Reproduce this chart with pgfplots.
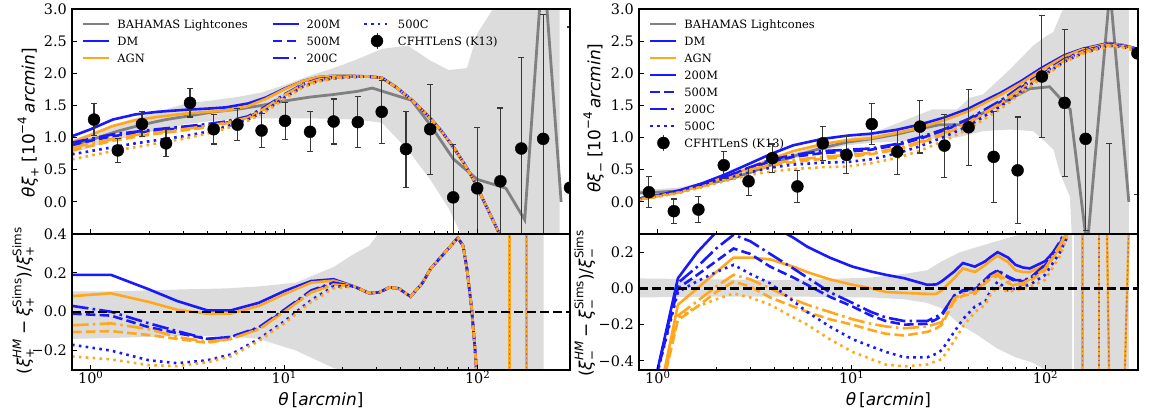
\documentclass[border=0pt]{standalone}
\usepackage{amsmath}
\usepackage{fontspec}
\setmainfont{DejaVu Serif}
\newfontfamily\mt{DejaVu Sans}[ItalicFont={* Oblique}]
\usepackage{pgfplots}
\usepackage{pgfplotstable}
\pgfplotsset{compat=1.18}

\newcommand{\tx}[1]{\text{\mt #1}}

\definecolor{hmblue}{RGB}{25,25,255}
\definecolor{hmorange}{RGB}{255,168,30}
\definecolor{simgray}{RGB}{128,128,128}
\definecolor{bandgray}{RGB}{220,220,220}
\definecolor{ebar}{RGB}{55,55,55}

% plain TikZ styles for the curves
\tikzset{
  hmline/.style={line width=2.6bp, line cap=butt},
  lsM200/.style={hmline, solid},
  lsM500/.style={hmline, dash pattern=on 9.6bp off 4.2bp},
  lsC200/.style={hmline, dash pattern=on 16.6bp off 4.2bp on 2.6bp off 4.2bp},
  lsC500/.style={hmline, dash pattern=on 2.6bp off 4.3bp},
  simline/.style={simgray, line width=2.8bp},
  simband/.style={fill=bandgray, draw=none},
  zeroline/.style={black, line width=2.4bp, dash pattern=on 9bp off 4bp},
  divline/.style={hmorange, line width=2.4bp},
  divdots/.style={hmblue, opacity=0.45, line width=1.4bp, dash pattern=on 1.5bp off 3bp},
}

\newcommand{\lgline}[1]{\addlegendimage{legend image code/.code={%
  \draw[#1] (0bp,0bp) -- (26bp,0bp);
  \path[draw=none, fill=none] (0bp,-8.5bp) rectangle (34bp,8.5bp);}}}
\newcommand{\lgdot}{\addlegendimage{legend image code/.code={%
  \draw[ebar, line width=1bp] (13bp,-8bp) -- (13bp,8bp);
  \fill[black] (13bp,0bp) circle (6bp);
  \path[draw=none, fill=none] (0bp,-8.5bp) rectangle (34bp,8.5bp);}}}

% theta*xi_+ : halo-model predictions (DM / AGN, four mass definitions)
\pgfplotstableread{
t    dm200m agn200m dm500m agn500m dm200c agn200c dm500c agn500c
0.8  1.02 0.93 0.88 0.80 0.92 0.84 0.74 0.66
1.0  1.13 1.04 0.95 0.87 0.98 0.91 0.79 0.72
1.3  1.28 1.18 1.02 0.95 1.05 0.98 0.85 0.79
1.7  1.36 1.27 1.07 1.01 1.09 1.04 0.91 0.85
2.2  1.40 1.32 1.11 1.06 1.13 1.08 0.96 0.91
3    1.43 1.37 1.15 1.11 1.17 1.13 1.02 0.98
4    1.45 1.40 1.19 1.16 1.21 1.18 1.09 1.06
5    1.47 1.42 1.23 1.22 1.25 1.23 1.17 1.14
6.5  1.53 1.49 1.31 1.30 1.33 1.31 1.28 1.26
8    1.62 1.60 1.46 1.45 1.48 1.46 1.42 1.40
10   1.76 1.75 1.66 1.65 1.67 1.66 1.62 1.60
12.5 1.88 1.88 1.82 1.81 1.83 1.82 1.79 1.78
15   1.94 1.94 1.90 1.89 1.91 1.90 1.88 1.87
18   1.96 1.96 1.93 1.93 1.94 1.93 1.92 1.92
22   1.96 1.96 1.95 1.95 1.95 1.95 1.94 1.94
27   1.95 1.95 1.95 1.95 1.95 1.95 1.95 1.95
32   1.93 1.93 1.93 1.93 1.93 1.93 1.93 1.93
38   1.78 1.78 1.78 1.78 1.78 1.78 1.78 1.78
45   1.60 1.60 1.60 1.60 1.60 1.60 1.60 1.60
55   1.35 1.35 1.35 1.35 1.35 1.35 1.35 1.35
65   1.10 1.10 1.10 1.10 1.10 1.10 1.10 1.10
75   0.85 0.85 0.85 0.85 0.85 0.85 0.85 0.85
85   0.60 0.60 0.60 0.60 0.60 0.60 0.60 0.60
95   0.35 0.35 0.35 0.35 0.35 0.35 0.35 0.35
110  -0.05 -0.05 -0.05 -0.05 -0.05 -0.05 -0.05 -0.05
125  -0.40 -0.40 -0.40 -0.40 -0.40 -0.40 -0.40 -0.40
140  -0.70 -0.70 -0.70 -0.70 -0.70 -0.70 -0.70 -0.70
}\xipHM

% relative difference to the simulations, xi_+
\pgfplotstableread{
t    dm200m agn200m dm500m agn500m dm200c agn200c dm500c agn500c
0.8  0.19  0.08  -0.01 -0.105 0.03 -0.07 -0.17 -0.23
1.27 0.19  0.095 -0.02 -0.10  0.0  -0.06 -0.20 -0.245
2.0  0.115 0.05  -0.08 -0.12 -0.06 -0.09 -0.25 -0.275
2.8  0.055 0.01  -0.11 -0.14 -0.10 -0.13 -0.265 -0.28
4.0  0.007 -0.01 -0.14 -0.16 -0.14 -0.155 -0.25 -0.26
5.3  0.007 -0.01 -0.13 -0.14 -0.13 -0.14 -0.22 -0.23
7.4  0.046 0.03  -0.085 -0.09 -0.08 -0.09 -0.14 -0.15
10   0.106 0.09  0.005 0.0 0.01 0.0 -0.05 -0.06
13.8 0.158 0.15  0.105 0.10 0.11 0.10 0.06 0.05
18   0.167 0.16  0.145 0.14 0.15 0.14 0.13 0.12
23   0.13 0.13 0.13 0.13 0.13 0.13 0.13 0.13
27.5 0.095 0.095 0.095 0.095 0.095 0.095 0.095 0.095
31   0.10 0.10 0.10 0.10 0.10 0.10 0.10 0.10
35   0.125 0.125 0.125 0.125 0.125 0.125 0.125 0.125
39   0.12 0.12 0.12 0.12 0.12 0.12 0.12 0.12
45   0.078 0.078 0.078 0.078 0.078 0.078 0.078 0.078
52   0.15 0.15 0.15 0.15 0.15 0.15 0.15 0.15
57   0.22 0.22 0.22 0.22 0.22 0.22 0.22 0.22
67   0.30 0.30 0.30 0.30 0.30 0.30 0.30 0.30
79   0.38 0.38 0.38 0.38 0.38 0.38 0.38 0.38
84   0.34 0.34 0.34 0.34 0.34 0.34 0.34 0.34
88   0.22 0.22 0.22 0.22 0.22 0.22 0.22 0.22
93   0.02 0.02 0.02 0.02 0.02 0.02 0.02 0.02
97   -0.2 -0.2 -0.2 -0.2 -0.2 -0.2 -0.2 -0.2
100  -0.4 -0.4 -0.4 -0.4 -0.4 -0.4 -0.4 -0.4
105  -0.8 -0.8 -0.8 -0.8 -0.8 -0.8 -0.8 -0.8
}\xipRes

% theta*xi_- : halo-model predictions
\pgfplotstableread{
t    dm200m agn200m dm500m agn500m dm200c agn200c dm500c agn500c
0.8  0.05 0.04 0.05 0.04 0.05 0.04 0.04 0.03
1.0  0.10 0.09 0.10 0.09 0.10 0.08 0.09 0.08
1.3  0.18 0.16 0.17 0.15 0.17 0.15 0.16 0.14
1.7  0.29 0.26 0.27 0.25 0.27 0.24 0.25 0.23
2.2  0.42 0.38 0.39 0.35 0.38 0.34 0.35 0.32
3    0.60 0.53 0.52 0.48 0.54 0.50 0.46 0.42
3.8  0.74 0.66 0.63 0.56 0.65 0.58 0.53 0.47
5    0.88 0.79 0.70 0.62 0.73 0.65 0.58 0.51
7.1  0.98 0.90 0.76 0.67 0.79 0.70 0.61 0.54
9.5  1.03 0.96 0.78 0.70 0.81 0.73 0.62 0.55
12.5 1.06 0.99 0.81 0.74 0.83 0.76 0.66 0.60
17   1.12 1.07 0.88 0.81 0.90 0.83 0.75 0.68
22.3 1.20 1.15 0.98 0.91 1.00 0.93 0.86 0.79
30   1.31 1.27 1.11 1.05 1.13 1.07 1.01 0.95
40   1.45 1.41 1.27 1.22 1.29 1.24 1.18 1.13
59   1.70 1.67 1.56 1.52 1.58 1.54 1.49 1.45
75   1.88 1.85 1.78 1.75 1.80 1.77 1.72 1.69
95   2.08 2.05 1.98 1.96 1.99 1.97 1.94 1.92
125  2.28 2.26 2.21 2.19 2.22 2.20 2.18 2.17
155  2.38 2.37 2.34 2.32 2.34 2.33 2.31 2.30
211  2.47 2.46 2.45 2.44 2.45 2.44 2.43 2.42
250  2.44 2.44 2.43 2.42 2.43 2.42 2.41 2.40
300  2.38 2.37 2.37 2.36 2.37 2.36 2.35 2.34
}\ximHM

% relative difference to the simulations, xi_-
\pgfplotstableread{
t    dm200m agn200m dm500m agn500m dm200c agn200c dm500c agn500c
0.95 -0.55 -0.75 -0.55 -0.75 -0.55 -0.75 -0.55 -0.75
1.27 0.056 -0.09 0.0 -0.175 0.03 -0.15 -0.02 -0.16
1.6  0.20 0.0 0.075 -0.10 0.12 -0.07 0.04 -0.10
2.0  0.31 0.09 0.15 -0.02 0.22 0.01 0.09 -0.06
2.46 0.40 0.17 0.22 0.037 0.296 0.075 0.13 -0.028
3.0  0.39 0.17 0.19 0.01 0.26 0.05 0.08 -0.05
3.8  0.35 0.16 0.12 -0.05 0.19 0.0 0.028 -0.09
5.0  0.28 0.12 0.06 -0.10 0.11 -0.06 -0.07 -0.16
5.9  0.23 0.09 0.02 -0.13 0.06 -0.09 -0.13 -0.20
7.7  0.17 0.05 -0.046 -0.17 -0.02 -0.13 -0.21 -0.28
10.1 0.12 0.02 -0.10 -0.20 -0.08 -0.17 -0.28 -0.35
12.6 0.093 0.0 -0.15 -0.23 -0.13 -0.195 -0.32 -0.39
15   0.075 -0.02 -0.18 -0.25 -0.16 -0.21 -0.35 -0.42
18.7 0.056 -0.025 -0.20 -0.26 -0.18 -0.22 -0.38 -0.43
24.5 0.02 -0.03 -0.195 -0.24 -0.18 -0.21 -0.38 -0.42
27.4 0.022 -0.03 -0.17 -0.22 -0.155 -0.195 -0.36 -0.40
29.2 0.04 -0.01 -0.15 -0.20 -0.14 -0.185 -0.34 -0.39
33.8 0.093 0.056 -0.04 -0.07 -0.04 -0.055 -0.24 -0.29
37.5 0.14 0.11 -0.015 -0.04 -0.01 -0.03 -0.17 -0.21
43.2 0.12 0.09 -0.005 -0.03 0.0 -0.02 -0.10 -0.13
49   0.15 0.13 0.04 0.03 0.05 0.04 -0.07 -0.09
51.6 0.17 0.15 0.07 0.05 0.075 0.06 -0.02 -0.04
56.6 0.20 0.18 0.095 0.07 0.10 0.083 0.037 0.01
64.1 0.17 0.145 0.06 0.03 0.065 0.04 -0.01 -0.02
70   0.13 0.10 0.04 0.01 0.046 0.02 0.0 -0.01
76.6 0.115 0.09 0.04 0.02 0.046 0.03 0.01 0.0
83   0.11 0.09 0.05 0.04 0.056 0.05 0.02 0.01
99.4 0.15 0.13 0.125 0.10 0.13 0.11 0.074 0.046
119  0.24 0.22 0.25 0.23 0.26 0.24 0.20 0.18
129  0.30 0.30 0.33 0.31 0.34 0.32 0.28 0.28
140  0.40 0.40 0.45 0.45 0.45 0.45 0.45 0.45
}\ximRes

% CFHTLenS measurements (Kilbinger et al. 2013)
\pgfplotstableread{
t    v    e
1.04 1.28 0.25
1.38 0.80 0.19
1.84 1.21 0.19
2.45 0.91 0.21
3.26 1.54 0.22
4.32 1.13 0.23
5.73 1.20 0.25
7.64 1.11 0.26
10.1 1.26 0.29
13.6 1.09 0.31
18.0 1.25 0.35
24.0 1.24 0.40
31.9 1.40 0.49
42.6 0.82 0.59
56.8 1.13 0.70
74.7 0.07 0.82
99.4 0.21 0.94
131  0.32 1.14
168  0.83 1.42
218  0.98 1.93
300  0.22 2.50
}\xipData

\pgfplotstableread{
t    v     e
0.90 0.15  0.24
1.21 -0.145 0.19
1.62 -0.12 0.20
2.19 0.57  0.21
2.94 0.32  0.22
3.90 0.68  0.22
5.25 0.24  0.245
7.10 0.91  0.265
9.40 0.73  0.285
12.7 1.21  0.32
17.2 0.78  0.35
22.5 1.17  0.41
30.1 0.875 0.49
40.1 1.16  0.59
54.0 0.70  0.705
71.8 0.49  0.83
95.8 1.95  0.955
125.4 1.54 1.14
161  0.98  1.42
213  -0.85 1.76
298  2.31  2.20
}\ximData

\newcommand{\hmcurves}[1]{%
  \addplot[forget plot, hmblue,   lsM200] table[x=t,y=dm200m]  {#1};
  \addplot[forget plot, hmorange, lsM200] table[x=t,y=agn200m] {#1};
  \addplot[forget plot, hmblue,   lsM500] table[x=t,y=dm500m]  {#1};
  \addplot[forget plot, hmorange, lsM500] table[x=t,y=agn500m] {#1};
  \addplot[forget plot, hmblue,   lsC200] table[x=t,y=dm200c]  {#1};
  \addplot[forget plot, hmorange, lsC200] table[x=t,y=agn200c] {#1};
  \addplot[forget plot, hmblue,   lsC500] table[x=t,y=dm500c]  {#1};
  \addplot[forget plot, hmorange, lsC500] table[x=t,y=agn500c] {#1};
}
\newcommand{\kdata}[1]{%
  \addplot[forget plot, only marks, mark=*, mark size=6bp,
    mark options={fill=black, draw=black, solid},
    error bars/.cd, y dir=both, y explicit,
    error bar style={ebar, line width=1.1bp, solid},
    error mark options={ebar, rotate=90, mark size=3bp, line width=1.1bp}]
    table[x=t, y=v, y error=e] {#1};
}

\begin{document}
\begin{tikzpicture}
\useasboundingbox (0,0) rectangle (1151bp,420bp);

% ---------------- xi_+ ----------------
\begin{axis}[scale only axis, anchor=south west, at={(72bp,186bp)},
  width=498bp, height=225bp,
  xmode=log, xmin=0.8, xmax=300, ymin=-0.5, ymax=3,
  axis on top, clip marker paths=true,
  axis line style={black, line width=1.1bp},
  tick style={black, line width=0.9bp},
  major tick length=5bp, minor tick length=3bp,
  tick align=inside, xtick pos=left, ytick pos=left,
  xtick={1,10,100}, xticklabels={},
  ytick={0,0.5,1,1.5,2,2.5,3}, yticklabels={0.0,0.5,1.0,1.5,2.0,2.5,3.0},
  tick label style={font=\fontsize{14.5}{16}\selectfont},
  yticklabel style={anchor=east, inner sep=0pt, xshift=-5bp},
  ylabel={$\tx{\itshape θξ}_{\tx{+}}\;\tx{[10}^{\tx{−4}}\,\tx{\itshape arcmin}\tx{]}$},
  ylabel style={at={(axis description cs:-0.088,0.495)}, anchor=center,
    font=\fontsize{17}{20}\selectfont},
  legend columns=3, legend cell align=left,
  legend style={draw=none, fill=none, inner sep=0pt, outer sep=0pt,
    column sep=0pt, row sep=0pt, font=\fontsize{11.5}{13}\selectfont,
    nodes={inner sep=0pt, text depth=0pt},
    at={(0,1)}, anchor=north west, xshift=10bp, yshift=-6.5bp}]
  \addplot[forget plot, simband] coordinates {
    (0.8,0.96) (1.3,1.2) (1.84,1.33) (2.46,1.44) (3.1,1.53) (4.3,1.58) (5.7,1.63)
    (7.6,1.70) (10.1,1.82) (13.5,1.96) (18,2.08) (24,2.22) (32,2.38) (43.5,2.43)
    (56.8,2.2) (70.8,2.05) (88,2.08) (100,2.63) (120,3.0) (130,3.6) (265,3.6)
    (265,-0.8) (88,-0.8) (85,-0.6) (70.8,-0.1) (56.8,0.35) (43.5,0.81) (32,1.23)
    (24,1.28) (18,1.29) (13.5,1.30) (10.1,1.30) (7.6,1.30) (5.7,1.29) (4.3,1.26)
    (3.1,1.21) (2.46,1.14) (1.84,1.06) (1.3,0.95) (0.8,0.76)} -- cycle;
  \addplot[forget plot, simline] coordinates {
    (0.8,0.88) (1.04,0.98) (1.38,1.10) (1.84,1.20) (2.45,1.28) (3.26,1.34)
    (4.32,1.40) (5.73,1.44) (7.64,1.50) (10.1,1.57) (13.6,1.63) (18.0,1.67)
    (24.0,1.72) (28.5,1.77) (45.5,1.58) (56.8,1.20) (74.7,0.67) (99.4,0.35)
    (131,0.24) (140,0.21) (175,-0.28) (218,3.8) (270,0.0)};
  \hmcurves{\xipHM}
  \kdata{\xipData}
  % legend, filled row by row
  \lgline{simline}\addlegendentry{\makebox[154bp][l]{BAHAMAS Lightcones}}
  \lgline{hmblue, lsM200}\addlegendentry{\makebox[56bp][l]{200M}}
  \lgline{hmblue, lsC500}\addlegendentry{500C}
  \lgline{hmblue, lsM200}\addlegendentry{DM}
  \lgline{hmblue, lsM500}\addlegendentry{500M}
  \lgdot\addlegendentry{CFHTLenS (K13)}
  \lgline{hmorange, lsM200}\addlegendentry{AGN}
  \lgline{hmblue, lsC200}\addlegendentry{200C}
  \addlegendimage{empty legend}\addlegendentry{}
\end{axis}

\begin{axis}[scale only axis, anchor=south west, at={(72bp,50bp)},
  width=498bp, height=136bp,
  xmode=log, xmin=0.8, xmax=300, ymin=-0.3, ymax=0.4,
  axis on top,
  axis line style={black, line width=1.1bp},
  tick style={black, line width=0.9bp},
  major tick length=5bp, minor tick length=3bp,
  tick align=inside, xtick pos=left, ytick pos=left,
  xtick={1,10,100},
  xticklabels={10\textsuperscript{0},10\textsuperscript{1},10\textsuperscript{2}},
  ytick={-0.2,0,0.2,0.4}, yticklabels={−0.2,0.0,0.2,0.4},
  tick label style={font=\fontsize{14.5}{16}\selectfont},
  yticklabel style={anchor=east, inner sep=0pt, xshift=-5bp},
  xticklabel style={anchor=north, inner sep=0pt, yshift=-1bp},
  xlabel={$\tx{\itshape θ}\,\tx{[}\tx{\itshape arcmin}\tx{]}$},
  xlabel style={at={(axis description cs:0.5,-0.22)}, anchor=center,
    font=\fontsize{17}{20}\selectfont},
  ylabel={$\tx{(}\tx{\itshape ξ}^{\tx{\itshape HM}}_{\tx{+}}\mathbin{\tx{−}}\tx{\itshape ξ}^{\tx{Sims}}_{\tx{+}}\tx{)/}\tx{\itshape ξ}^{\tx{Sims}}_{\tx{+}}$},
  ylabel style={at={(axis description cs:-0.098,0.51)}, anchor=center,
    font=\fontsize{17}{20}\selectfont}]
  \addplot[forget plot, simband] coordinates {
    (0.8,0.105) (1.3,0.105) (2,0.11) (3,0.115) (5,0.12) (7.4,0.13) (11.5,0.15)
    (18,0.23) (22.3,0.29) (27.5,0.34) (30.6,0.4) (35,0.5) (219,0.5)
    (219,-0.4) (30.6,-0.4) (27.5,-0.35) (22.3,-0.32) (18,-0.29) (11.5,-0.2)
    (7.4,-0.14) (5,-0.125) (3,-0.125) (2,-0.13) (1.3,-0.135) (0.8,-0.14)} -- cycle;
  \hmcurves{\xipRes}
  \addplot[forget plot, divline] coordinates {(146,-0.5) (146,0.5)};
  \addplot[forget plot, divdots] coordinates {(146,-0.5) (146,0.5)};
  \addplot[forget plot, divline] coordinates {(179,-0.5) (179,0.5)};
  \addplot[forget plot, divdots] coordinates {(179,-0.5) (179,0.5)};
  \addplot[forget plot, zeroline] coordinates {(0.8,0) (300,0)};
\end{axis}

% ---------------- xi_- ----------------
\begin{axis}[scale only axis, anchor=south west, at={(639bp,186bp)},
  width=499bp, height=225bp,
  xmode=log, xmin=0.8, xmax=300, ymin=-0.5, ymax=3,
  axis on top, clip marker paths=true,
  axis line style={black, line width=1.1bp},
  tick style={black, line width=0.9bp},
  major tick length=5bp, minor tick length=3bp,
  tick align=inside, xtick pos=left, ytick pos=left,
  xtick={1,10,100}, xticklabels={},
  ytick={0,0.5,1,1.5,2,2.5,3}, yticklabels={0.0,0.5,1.0,1.5,2.0,2.5,3.0},
  tick label style={font=\fontsize{14.5}{16}\selectfont},
  yticklabel style={anchor=east, inner sep=0pt, xshift=-5bp},
  ylabel={$\tx{\itshape θξ}_{\tx{−}}\;\tx{[10}^{\tx{−4}}\,\tx{\itshape arcmin}\tx{]}$},
  ylabel style={at={(axis description cs:-0.09,0.515)}, anchor=center,
    font=\fontsize{17}{20}\selectfont},
  legend columns=1, legend cell align=left,
  legend style={draw=none, fill=none, inner sep=0pt, outer sep=0pt,
    column sep=0pt, row sep=0pt, font=\fontsize{11.5}{13}\selectfont,
    nodes={inner sep=0pt, text depth=0pt},
    at={(0,1)}, anchor=north west, xshift=10bp, yshift=-6.5bp}]
  \addplot[forget plot, simband] coordinates {
    (0.8,0.19) (1.0,0.20) (1.27,0.22) (2.0,0.35) (3.0,0.50) (5,0.76) (7.1,0.89)
    (9.5,0.98) (12.6,1.06) (17.8,1.24) (26.2,1.44) (35,1.44) (40.8,1.62)
    (47.6,1.67) (65.5,2.06) (86.4,2.43) (101,2.58) (109.6,2.64) (115,2.79)
    (123,3.0) (130,3.6) (269,3.6)
    (269,-0.6) (137,-0.6) (133.6,0.08) (118.6,0.45) (110,0.81) (101,0.92)
    (86.4,1.10) (65.5,1.125) (47.6,1.1) (35,1.0) (22,0.97) (17.8,0.94)
    (12.6,0.92) (9.5,0.88) (7.1,0.80) (5,0.67) (3.0,0.43) (2.0,0.28)
    (1.27,0.13) (1.0,0.11) (0.8,0.10)} -- cycle;
  \addplot[forget plot, simline] coordinates {
    (0.8,0.14) (1.0,0.15) (1.27,0.17) (1.6,0.24) (2.0,0.31) (2.46,0.37)
    (3.0,0.46) (3.8,0.57) (5.0,0.71) (7.1,0.84) (9.5,0.93) (12.6,0.98)
    (17,1.05) (22,1.13) (28.5,1.20) (36,1.20) (44,1.33) (83,1.76) (105,1.79)
    (134,1.44) (164,-0.71) (215,3.3) (269,0.0)};
  \hmcurves{\ximHM}
  \kdata{\ximData}
  \lgline{simline}\addlegendentry{BAHAMAS Lightcones}
  \lgline{hmblue, lsM200}\addlegendentry{DM}
  \lgline{hmorange, lsM200}\addlegendentry{AGN}
  \lgline{hmblue, lsM200}\addlegendentry{200M}
  \lgline{hmblue, lsM500}\addlegendentry{500M}
  \lgline{hmblue, lsC200}\addlegendentry{200C}
  \lgline{hmblue, lsC500}\addlegendentry{500C}
  \lgdot\addlegendentry{CFHTLenS (K13)}
\end{axis}

\begin{axis}[scale only axis, anchor=south west, at={(639bp,50bp)},
  width=499bp, height=136bp,
  xmode=log, xmin=0.8, xmax=300, ymin=-0.45, ymax=0.3,
  axis on top,
  axis line style={black, line width=1.1bp},
  tick style={black, line width=0.9bp},
  major tick length=5bp, minor tick length=3bp,
  tick align=inside, xtick pos=left, ytick pos=left,
  xtick={1,10,100},
  xticklabels={10\textsuperscript{0},10\textsuperscript{1},10\textsuperscript{2}},
  ytick={-0.4,-0.2,0,0.2}, yticklabels={−0.4,−0.2,0.0,0.2},
  tick label style={font=\fontsize{14.5}{16}\selectfont},
  yticklabel style={anchor=east, inner sep=0pt, xshift=-5bp},
  xticklabel style={anchor=north, inner sep=0pt, yshift=-1bp},
  xlabel={$\tx{\itshape θ}\,\tx{[}\tx{\itshape arcmin}\tx{]}$},
  xlabel style={at={(axis description cs:0.5,-0.22)}, anchor=center,
    font=\fontsize{17}{20}\selectfont},
  ylabel={$\tx{(}\tx{\itshape ξ}^{\tx{\itshape HM}}_{\tx{−}}\mathbin{\tx{−}}\tx{\itshape ξ}^{\tx{Sims}}_{\tx{−}}\tx{)/}\tx{\itshape ξ}^{\tx{Sims}}_{\tx{−}}$},
  ylabel style={at={(axis description cs:-0.108,0.49)}, anchor=center,
    font=\fontsize{17}{20}\selectfont}]
  \addplot[forget plot, simband] coordinates {
    (0.8,0.055) (2,0.05) (5,0.045) (12.6,0.06) (18.7,0.08) (24.5,0.1) (29.2,0.15)
    (36.3,0.2) (45,0.23) (56,0.26) (70,0.29) (86,0.31) (104,0.33) (137,0.4)
    (137,-0.5) (104,-0.46) (86,-0.41) (70,-0.38) (56,-0.33) (45,-0.26)
    (36.3,-0.2) (29.2,-0.11) (24.5,-0.08) (18.7,-0.06) (12.6,-0.05) (5,-0.045)
    (2,-0.045) (0.8,-0.05)} -- cycle;
  \addplot[forget plot, simband] coordinates {(141,0.4) (268,0.4) (268,-0.5) (141,-0.5)} -- cycle;
  \hmcurves{\ximRes}
  \addplot[forget plot, divline] coordinates {(155,-0.5) (155,0.4)};
  \addplot[forget plot, divdots] coordinates {(155,-0.5) (155,0.4)};
  \addplot[forget plot, divline] coordinates {(189,-0.5) (189,0.4)};
  \addplot[forget plot, divdots] coordinates {(189,-0.5) (189,0.4)};
  \addplot[forget plot, divline] coordinates {(207,0.4) (213,-0.5)};
  \addplot[forget plot, divdots] coordinates {(207,0.4) (213,-0.5)};
  \addplot[forget plot, divline] coordinates {(256,-0.5) (270,0.4)};
  \addplot[forget plot, divdots] coordinates {(256,-0.5) (270,0.4)};
  \addplot[forget plot, zeroline] coordinates {(0.8,0) (300,0)};
\end{axis}
\end{tikzpicture}
\end{document}
